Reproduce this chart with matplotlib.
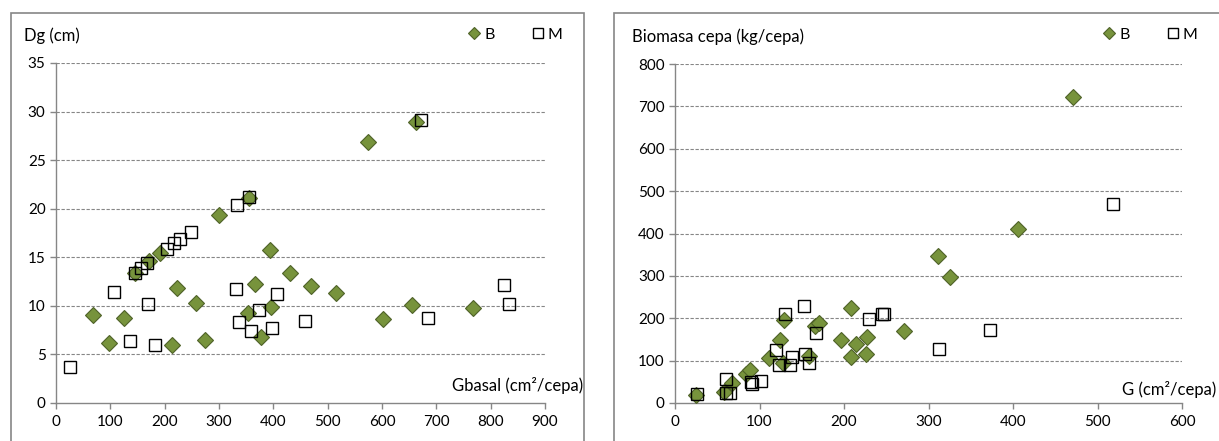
import matplotlib
matplotlib.use('Agg')
import matplotlib.pyplot as plt
from matplotlib.patches import Rectangle
from matplotlib.lines import Line2D

plt.rcParams['font.family'] = ['Lato', 'DejaVu Sans']

# Dg vs basal area
gb_B = [69, 97, 125, 145, 172, 191, 213, 223, 258, 275, 300, 353, 356, 367, 378, 393, 396,
        431, 469, 515, 575, 601, 656, 663, 768]
dg_B = [9.1, 6.2, 8.7, 13.4, 14.6, 15.4, 6.0, 11.8, 10.3, 6.5, 19.4, 9.3, 21.1, 12.3, 6.8, 15.7, 9.9,
        13.4, 12.0, 11.3, 26.9, 8.6, 10.05, 28.9, 9.75]
gb_M = [25, 106, 137, 145, 156, 167, 169, 182, 204, 217, 229, 248, 332, 333, 337, 356, 358,
        374, 398, 407, 459, 672, 685, 825, 834]
dg_M = [3.7, 11.4, 6.4, 13.4, 13.9, 14.4, 10.2, 6.0, 15.9, 16.5, 16.9, 17.6, 11.7, 20.4, 8.3, 21.2, 7.4,
        9.6, 7.7, 11.2, 8.4, 29.1, 8.75, 12.1, 10.2]

# Stump biomass vs G
g_B = [25, 58, 68, 84, 89, 111, 124, 128, 129, 159, 166, 171, 196, 208, 208, 214, 226, 227,
       271, 311, 326, 406, 471]
bio_B = [20, 27, 47, 68, 79, 106, 149, 94, 195, 112, 181, 189, 149, 108, 225, 140, 115, 156,
         169, 346, 298, 410, 721]
g_M = [26, 60, 60, 65, 90, 91, 102, 119, 123, 130, 136, 139, 153, 154, 159, 167, 229, 245, 247,
       312, 373, 518]
bio_M = [22, 57, 24, 24, 50, 46, 53, 126, 89, 209, 90, 108, 228, 116, 95, 166, 199, 209, 211,
         128, 172, 469]

green = '#77933C'
green_edge = '#4F6228'
grey = '#868686'

W, H = 1219, 441
fig = plt.figure(figsize=(W / 100, H / 100), dpi=100)

# chart frames
for x0, x1 in [(11, 584), (614, 1225)]:
    fig.patches.append(Rectangle((x0 / W, -0.02), (x1 - x0) / W, (H - 13) / H + 0.02,
                                 transform=fig.transFigure, fill=False, edgecolor=grey, lw=1.2))


def style(ax, xmax, xstep, ymax, ystep):
    ax.set_xlim(0, xmax)
    ax.set_ylim(0, ymax)
    ax.set_xticks(range(0, xmax + 1, xstep))
    ax.set_yticks(range(0, ymax + 1, ystep))
    for s in ['top', 'right']:
        ax.spines[s].set_visible(False)
    for s in ['left', 'bottom']:
        ax.spines[s].set_color(grey)
        ax.spines[s].set_linewidth(1.0)
    ax.tick_params(colors=grey, labelcolor='black', labelsize=11, length=4, width=1.0)
    ax.tick_params(axis='x', pad=5)
    for v in range(ystep, ymax + 1, ystep):
        ax.axhline(v, color=grey, lw=0.8, ls=(0, (3, 1.5)), zorder=0)


def points(ax, xb, yb, xm, ym):
    ax.plot(xb, yb, ls='none', marker='D', ms=8, mfc=green, mec=green_edge, mew=0.8, zorder=3)
    ax.plot(xm, ym, ls='none', marker='s', ms=8.5, mfc='none', mec='black', mew=1.0, zorder=3)


def legend(ax, x_right):
    handles = [Line2D([], [], ls='none', marker='D', ms=6.5, mfc=green, mec=green_edge, mew=0.8),
               Line2D([], [], ls='none', marker='s', ms=7.5, mfc='white', mec='black', mew=1.0)]
    ax.legend(handles, ['B', 'M'], ncol=2, loc='center right', frameon=False,
              bbox_to_anchor=(x_right / W, 1 - 35 / H), bbox_transform=fig.transFigure,
              handletextpad=0.1, columnspacing=2.2, handlelength=1.0, fontsize=11.5,
              borderaxespad=0, borderpad=0)


ax1 = fig.add_axes([56 / W, 38 / H, 489 / W, 340 / H])
style(ax1, 900, 100, 35, 5)
points(ax1, gb_B, dg_B, gb_M, dg_M)
legend(ax1, 562)
fig.text(24 / W, 1 - 36 / H, 'Dg (cm)', fontsize=12, va='center', ha='left')
fig.text(583 / W, 1 - 385 / H, 'Gbasal (cm²/cepa)', fontsize=12, va='center', ha='right')

ax2 = fig.add_axes([675 / W, 38 / H, 507 / W, 339 / H])
style(ax2, 600, 100, 800, 100)
points(ax2, g_B, bio_B, g_M, bio_M)
legend(ax2, 1197)
fig.text(632 / W, 1 - 37 / H, 'Biomasa cepa (kg/cepa)', fontsize=12, va='center', ha='left')
fig.text(1216 / W, 1 - 389 / H, 'G (cm²/cepa)', fontsize=12, va='center', ha='right')

fig.savefig('out.png', dpi=100)
